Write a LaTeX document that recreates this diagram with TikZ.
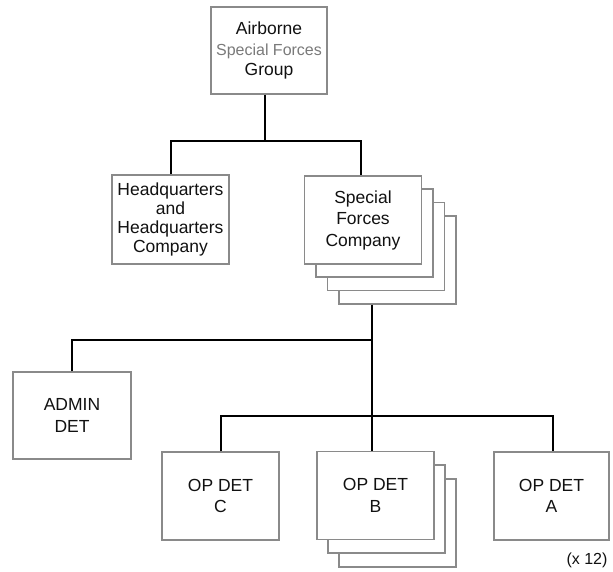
\documentclass[tikz,border=0pt]{standalone}
\usepackage{fontspec}
\setmainfont{Liberation Sans}
\definecolor{boxgray}{HTML}{8A8A8A}
\definecolor{txt}{HTML}{111111}
\definecolor{subgray}{HTML}{7A7A7A}
\begin{document}
\begin{tikzpicture}[x=1pt,y=-1pt,
  unit/.style={draw=boxgray,line width=1.4pt,fill=white,minimum width=117pt,minimum height=88pt,
    align=center,inner sep=0pt,text=txt,font=\fontsize{17.5}{21.5}\selectfont},
  link/.style={draw=black,line width=2.5pt}]
\useasboundingbox[fill=white] (0,0) rectangle (613,572);
% top
\node[unit,minimum width=116pt,minimum height=87pt] (grp) at (269,50.5)
  {Airborne\\[-1pt]{\fontsize{16}{19}\selectfont\color{subgray}Special Forces}\\[-1pt]Group};
% HQ
\node[unit,minimum height=89pt] (hq) at (170.5,219.5)
  {Headquarters\\[-2.5pt]and\\[-2.5pt]Headquarters\\[-2.5pt]Company};
% SF company stack
\node[unit] (sf3) at (397.5,260) {};
\node[unit] (sf2) at (386,246.5) {};
\node[unit] (sf1) at (374.5,233) {};
\node[unit] (sf) at (363,220) {Special\\Forces\\Company};
% admin
\node[unit,minimum width=118pt,minimum height=87pt] (adm) at (72,415.5) {ADMIN\\DET};
% OP dets
\node[unit] (opc) at (220.5,496) {OP DET\\C};
\node[unit] (opb2) at (397.5,523) {};
\node[unit] (opb1) at (386.5,509) {};
\node[unit] (opb) at (375.5,495.5) {OP DET\\B};
\node[unit,minimum width=115pt] (opa) at (551.5,496) {OP DET\\A};
\node[font=\fontsize{16}{19}\selectfont,text=txt,inner sep=0pt] (mult) at (587,560) {(x 12)};
% connector junctions
\coordinate (j0) at (265,141);
\coordinate (jhq) at (171,141);
\coordinate (jsf) at (361,141);
\coordinate (j1) at (372,340);
\coordinate (jad) at (72,340);
\coordinate (j2) at (372,416);
\coordinate (jc) at (221,416);
\coordinate (ja) at (553,416);
% connectors
\draw[link] (j0 |- grp.south) -- (j0);
\draw[link] (hq.north -| jhq) -- (jhq) -- (jsf) -- (sf.north -| jsf);
\draw[link] (j1 |- sf3.south) -- (j2);
\draw[link] (adm.north -| jad) -- (jad) -- (j1);
\draw[link] (opc.north -| jc) -- (jc) -- (ja) -- (opa.north -| ja);
\draw[link] (j2) -- (opb.north -| j2);
\end{tikzpicture}
\end{document}
